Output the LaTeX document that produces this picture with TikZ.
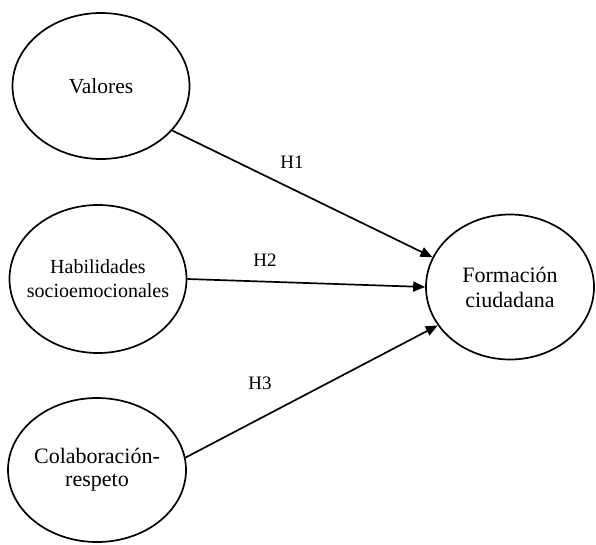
\documentclass[tikz,border=0pt]{standalone}
\usepackage{fontspec}
\setmainfont{Liberation Serif}
\usetikzlibrary{arrows.meta,shapes.geometric}
\begin{document}
\begin{tikzpicture}[x=1pt,y=-1pt,
  var/.style={draw,line width=1.7pt,ellipse,inner sep=-15pt,align=center},
  path/.style={line width=1.7pt,-{Triangle[length=12pt,width=10pt]}},
  hlab/.style={font=\fontsize{19}{22}\selectfont}]
\useasboundingbox (0,0) rectangle (596,545);
\node[var,minimum width=177pt,minimum height=146pt,font=\fontsize{21.5}{24}\selectfont] (v) at (101,86) {Valores};
\node[var,minimum width=177pt,minimum height=148pt,font=\fontsize{20}{24}\selectfont] (h) at (98,279) {Habilidades\\socioemocionales};
\node[var,minimum width=178pt,minimum height=144pt,font=\fontsize{22}{23}\selectfont] (c) at (97,470) {Colaboración-\\respeto};
\node[var,minimum width=168pt,minimum height=145pt,font=\fontsize{22}{25}\selectfont] (f) at (510,287) {Formación\\ciudadana};
\draw[path] (v.-32) -- (f.159);
\draw[path] (h.0) -- (f.180);
\draw[path] (c.8) -- (f.-152);
\node[hlab] (h1) at (292,162) {H1};
\node[hlab] (h2) at (265,260) {H2};
\node[hlab] (h3) at (260,383) {H3};
\end{tikzpicture}
\end{document}
